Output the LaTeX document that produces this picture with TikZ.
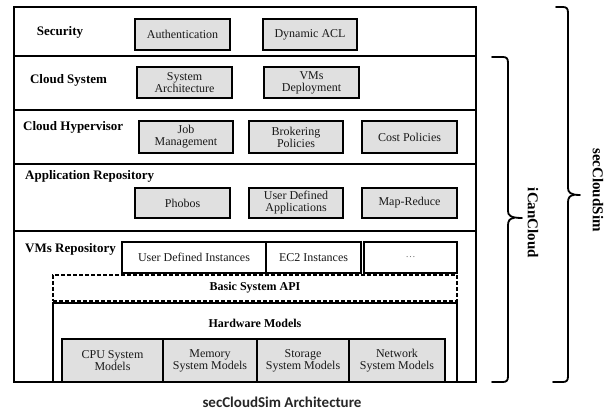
\documentclass[tikz,border=0pt]{standalone}
\usepackage{fontspec}
\setmainfont{Liberation Serif}
\newfontfamily\capfont{Carlito}
\begin{document}
\begin{tikzpicture}[x=1pt,y=-1pt,
  rowbox/.style={draw, line width=1.4pt, minimum width=462pt, inner sep=0pt},
  rowlabel/.style={font=\fontsize{13}{13}\selectfont\bfseries, inner sep=0pt},
  gbox/.style={draw, line width=2pt, fill=black!12, inner sep=0pt, align=center,
    font=\fontsize{12}{12}\selectfont, text=black!90},
  wbox/.style={gbox, fill=white},
  hwbox/.style={draw, line width=1.4pt, inner sep=0pt, minimum width=404pt},
  bracestyle/.style={line width=1.8pt, line cap=round},
  sidelabel/.style={font=\fontsize{15}{15}\selectfont\bfseries, rotate=-90, inner sep=0pt}]
\useasboundingbox (0,0) rectangle (608,411);

% layer rows of the stack
\node[rowbox, minimum height=49pt] (rsec) at (245,31.5) {};
\node[rowbox, minimum height=54pt] (rcs) at (245,83) {};
\node[rowbox, minimum height=54pt] (rch) at (245,137) {};
\node[rowbox, minimum height=67pt] (rapp) at (245,197.5) {};
\node[rowbox, minimum height=151pt] (rvm) at (245,306.5) {};

% Security
\node[rowlabel] (lsec) at (60,32) {Security};
\node[gbox, minimum width=95pt, minimum height=31pt] (auth) at (182.5,34.5) {Authentication};
\node[gbox, minimum width=94pt, minimum height=31pt] (acl) at (310,34.5) {Dynamic ACL};

% Cloud System
\node[rowlabel] (lcs) at (68.5,80) {Cloud System};
\node[gbox, minimum width=95pt, minimum height=31pt] (sysarch) at (184.5,82.5) {System\\Architecture};
\node[gbox, minimum width=95pt, minimum height=31pt] (vmdep) at (311.5,82.5) {VMs\\Deployment};

% Cloud Hypervisor
\node[rowlabel, anchor=west] (lch) at (23,127) {Cloud Hypervisor};
\node[gbox, minimum width=94pt, minimum height=32pt] (job) at (186,137) {Job\\Management};
\node[gbox, minimum width=94pt, minimum height=32pt] (brok) at (296,137) {Brokering\\Policies};
\node[gbox, minimum width=95pt, minimum height=32pt] (cost) at (409.5,137) {Cost Policies};

% Application Repository
\node[rowlabel, anchor=west] (lapp) at (25,176) {Application Repository};
\node[gbox, minimum width=95pt, minimum height=30pt] (phobos) at (182.5,203) {Phobos};
\node[gbox, minimum width=94pt, minimum height=30pt] (uda) at (296,203) {User Defined\\Applications};
\node[gbox, minimum width=95pt, minimum height=30pt] (mapred) at (409.5,203) {Map-Reduce};

% VMs Repository
\node[rowlabel, anchor=west] (lvm) at (25,249) {VMs Repository};
\node[wbox, minimum width=144pt, minimum height=31pt] (udi) at (194,257.5) {User Defined Instances};
\node[wbox, minimum width=95pt, minimum height=31pt] (ec2) at (313.5,257.5) {EC2 Instances};
\node[wbox, minimum width=93pt, minimum height=31pt, font=\fontsize{10}{10}\selectfont, text=black!55] (more) at (410.5,257.5) {\dots};

% system API and hardware layer
\node[hwbox, dashed, dash pattern=on 4pt off 2pt, minimum height=26pt,
  font=\fontsize{12}{12}\selectfont\bfseries] (api) at (255,288) {Basic System API};
\node[hwbox, minimum height=79pt] (hw) at (255,342.5) {};
\node[font=\fontsize{12}{12}\selectfont\bfseries, inner sep=0pt] (hwlabel) at (255,323) {Hardware Models};
\node[gbox, minimum width=101pt, minimum height=43pt] (cpu) at (112.5,360.5) {CPU System\\Models};
\node[gbox, minimum width=94pt, minimum height=43pt] (mem) at (210,360.5) {Memory\\System Models};
\node[gbox, minimum width=92pt, minimum height=43pt] (sto) at (303,360.5) {Storage\\System Models};
\node[gbox, minimum width=96pt, minimum height=43pt] (net) at (397,360.5) {Network\\System Models};

% iCanCloud brace
\coordinate (ictip) at (522,218);
\draw[bracestyle] (492,57) -- (503,57) .. controls (507,57) and (508,59) .. (508,63)
  -- (508,211) .. controls (508,215) and (510,218) .. (ictip);
\draw[bracestyle] (492,382) -- (503,382) .. controls (507,382) and (508,380) .. (508,376)
  -- (508,225) .. controls (508,221) and (510,218) .. (514,218);
\node[sidelabel] (ican) at (533,223) {iCanCloud};

% secCloudSim brace
\coordinate (sctip) at (580,195);
\draw[bracestyle] (556,7) -- (563,7) .. controls (567,7) and (568,9) .. (568,13)
  -- (568,188) .. controls (568,192) and (570,195) .. (sctip);
\draw[bracestyle] (553,382) -- (563,382) .. controls (567,382) and (568,380) .. (568,376)
  -- (568,202) .. controls (568,198) and (570,195) .. (574,195);
\node[sidelabel] (sec) at (598,190) {secCloudSim};

% caption
\node[font=\capfont\fontsize{15}{15}\selectfont\bfseries, text=black!85, inner sep=0pt] (cap) at (282,402) {secCloudSim Architecture};
\end{tikzpicture}
\end{document}
